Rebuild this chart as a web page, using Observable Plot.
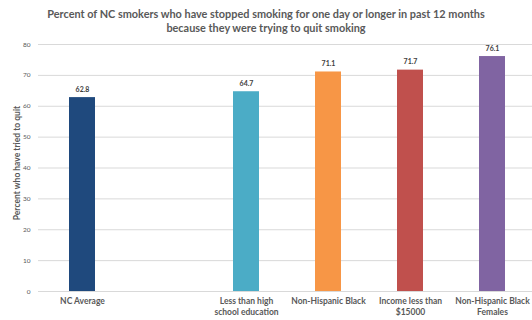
<!DOCTYPE html>
<html><head><meta charset="utf-8">
<script src="https://cdn.jsdelivr.net/npm/d3@7"></script>
<script src="https://cdn.jsdelivr.net/npm/@observablehq/plot@0.6"></script>
<style>
body{margin:0;background:#fff;font-family:Lato,"Liberation Sans",sans-serif;}
#title{height:38px;text-align:center;font-weight:bold;font-size:10.9px;line-height:14px;color:#595959;padding-top:7px;box-sizing:border-box;}
</style></head><body>
<div id="title">Percent of NC smokers who have stopped smoking for one day or longer in past 12 months<br>because they were trying to quit smoking</div>
<div id="chart"></div>
<script>
const categories = ["NC Average", " ", "Less than high school education", "Non-Hispanic Black", "Income less than $15000", "Non-Hispanic Black Females"];
const labelLine1 = ["NC Average", "", "Less than high", "Non-Hispanic Black", "Income less than", "Non-Hispanic Black"];
const labelLine2 = ["", "", "school education", "", "$15000", "Females"];
const values = [62.8, null, 64.7, 71.1, 71.7, 76.1];
const colors = ["#1F497D", "#ffffff", "#4BACC6", "#F79646", "#C0504D", "#8064A2"];
const yTicks = [0, 10, 20, 30, 40, 50, 60, 70, 80];
const yLabel = "Percent who have tried to quit";

const rows = categories.map((c, i) => ({cat: c, value: values[i], color: colors[i], l1: labelLine1[i], l2: labelLine2[i]}));
const data = rows.filter(d => d.value != null);

const chart = Plot.plot({
  width: 532, height: 282,
  marginTop: 6, marginBottom: 29, marginLeft: 38, marginRight: -4,
  style: {fontFamily: "Lato, 'Liberation Sans', sans-serif", color: "#595959", background: "#fff", overflow: "visible"},
  x: {domain: categories, paddingInner: 0.686, paddingOuter: 0.35, align: 0.5, label: null, axis: null},
  y: {domain: [0, 80], label: null, axis: null},
  marks: [
    Plot.ruleY(yTicks, {stroke: "#d9d9d9", strokeWidth: 1}),
    Plot.axisY({ticks: yTicks, tickSize: 0, tickPadding: 8, fontSize: 6.5, label: null, fill: "#595959"}),
    Plot.barY(data, {x: "cat", y: "value", fill: d => d.color}),
    Plot.text(data, {x: "cat", y: "value", text: d => d.value.toFixed(1), dy: -8, fontSize: 7, fontWeight: "bold", fill: "#404040"}),
    Plot.text(rows, {x: "cat", frameAnchor: "bottom", text: "l1", dy: 12, fontSize: 8.5, fontWeight: "bold", fill: "#595959"}),
    Plot.text(rows, {x: "cat", frameAnchor: "bottom", text: "l2", dy: 23, fontSize: 8.5, fontWeight: "bold", fill: "#595959"}),
    Plot.text([yLabel], {frameAnchor: "left", textAnchor: "middle", rotate: -90, dx: -21, dy: -5, fontSize: 8.5, fontWeight: "bold", fill: "#595959"})
  ]
});
document.getElementById("chart").appendChild(chart);
</script>
</body></html>
